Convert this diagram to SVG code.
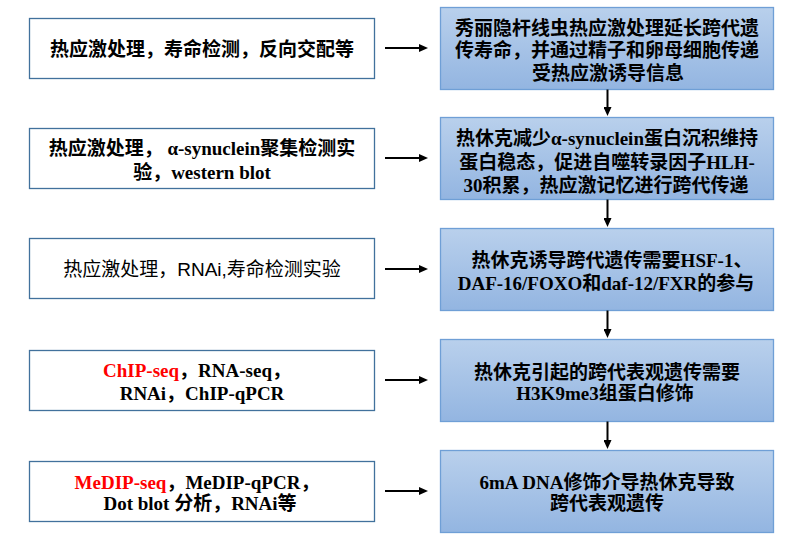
<svg xmlns="http://www.w3.org/2000/svg" width="800" height="549" viewBox="0 0 800 549">
<style>
.lbox{fill:#ffffff;stroke:#41719c;stroke-width:1.3}
.rbox{fill:url(#g);stroke:#6f9fd6;stroke-width:1.3}
text{font-family:"Liberation Serif","Noto Sans CJK SC",serif;font-size:19px;font-weight:bold;fill:#000;text-anchor:middle}
text.reg{font-family:"Liberation Sans","Noto Sans CJK SC",sans-serif;font-weight:normal}
.red{fill:#ff0000}
.conn line{stroke:#000;stroke-width:2;marker-end:url(#ah)}
</style>
<defs>
<linearGradient id="g" x1="0" y1="0" x2="0" y2="1">
<stop offset="0" stop-color="#b9d0ec"/>
<stop offset="1" stop-color="#93b5e1"/>
</linearGradient>
<marker id="ah" viewBox="0 0 9 8" markerWidth="9" markerHeight="8" refX="5" refY="4" orient="auto" markerUnits="userSpaceOnUse">
<path d="M0,0 L9,4 L0,8 z" fill="#000"/>
</marker>
</defs>
<rect width="800" height="549" fill="#ffffff"/>

<g id="L1"><rect class="lbox" x="29.5" y="18.5" width="345" height="60"/>
<text x="202" y="56">热应激处理，寿命检测，反向交配等</text></g>
<g id="L2"><rect class="lbox" x="29.5" y="128.5" width="345" height="60"/>
<text x="202" y="155">热应激处理， α-synuclein聚集检测实</text>
<text x="202" y="179">验，western blot</text></g>
<g id="L3"><rect class="lbox" x="29.5" y="238.5" width="345" height="60"/>
<text class="reg" x="202" y="276">热应激处理，RNAi,寿命检测实验</text></g>
<g id="L4"><rect class="lbox" x="29.5" y="350.5" width="345" height="60"/>
<text x="197" y="377"><tspan class="red">ChIP-seq</tspan>，RNA-seq，</text>
<text x="202" y="400">RNAi，ChIP-qPCR</text></g>
<g id="L5"><rect class="lbox" x="29.5" y="461.5" width="345" height="60"/>
<text x="197" y="489"><tspan class="red">MeDIP-seq</tspan>，MeDIP-qPCR，</text>
<text x="200" y="510">Dot blot 分析，RNAi等</text></g>

<g id="R1"><rect class="rbox" x="440.5" y="7.5" width="333" height="82"/>
<text x="607" y="35">秀丽隐杆线虫热应激处理延长跨代遗</text>
<text x="607" y="57">传寿命，并通过精子和卵母细胞传递</text>
<text x="608" y="80">受热应激诱导信息</text></g>
<g id="R2"><rect class="rbox" x="440.5" y="117.5" width="333" height="82"/>
<text x="607" y="145">热休克减少α-synuclein蛋白沉积维持</text>
<text x="607" y="169">蛋白稳态，促进自噬转录因子HLH-</text>
<text x="606" y="192">30积累，热应激记忆进行跨代传递</text></g>
<g id="R3"><rect class="rbox" x="440.5" y="228.5" width="333" height="82"/>
<text x="612" y="267">热休克诱导跨代遗传需要HSF-1、</text>
<text x="606" y="290">DAF-16/FOXO和daf-12/FXR的参与</text></g>
<g id="R4"><rect class="rbox" x="440.5" y="339.5" width="333" height="82"/>
<text x="607" y="379">热休克引起的跨代表观遗传需要</text>
<text x="605" y="400">H3K9me3组蛋白修饰</text></g>
<g id="R5"><rect class="rbox" x="440.5" y="450.5" width="333" height="82"/>
<text x="607" y="489">6mA DNA修饰介导热休克导致</text>
<text x="607" y="510">跨代表观遗传</text></g>

<g id="connectors" class="conn">
<line x1="385" y1="48" x2="424" y2="48"/>
<line x1="385" y1="158" x2="424" y2="158"/>
<line x1="385" y1="269" x2="424" y2="269"/>
<line x1="385" y1="380" x2="424" y2="380"/>
<line x1="385" y1="491" x2="424" y2="491"/>
<line x1="607.5" y1="89.5" x2="607.5" y2="112"/>
<line x1="607.5" y1="199.5" x2="607.5" y2="223"/>
<line x1="607.5" y1="310.5" x2="607.5" y2="334"/>
<line x1="607.5" y1="421.5" x2="607.5" y2="445"/>
</g>
</svg>
